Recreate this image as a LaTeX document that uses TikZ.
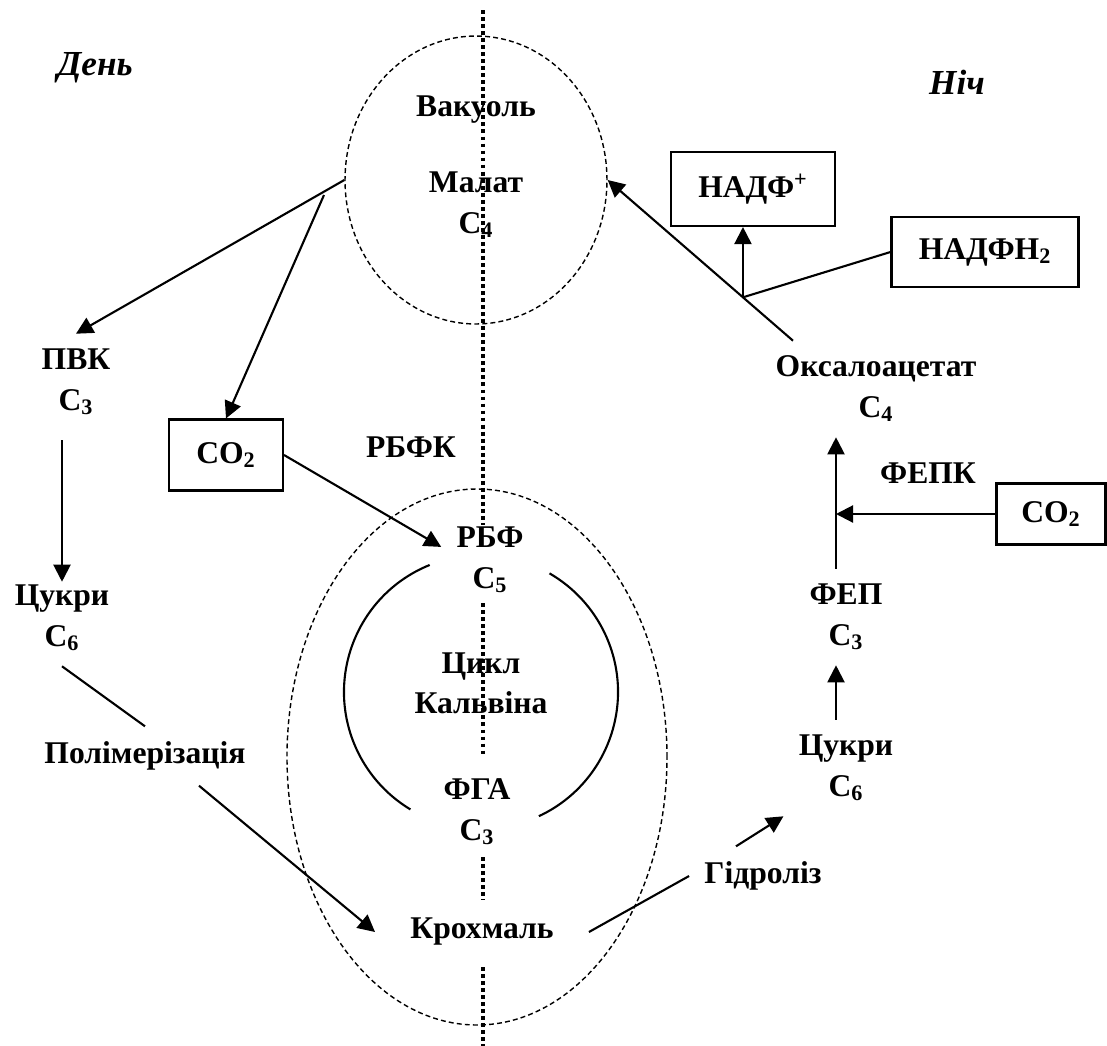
\documentclass[tikz,border=0pt]{standalone}
\usepackage{fontspec}
\setmainfont{Liberation Serif}
\usetikzlibrary{arrows.meta, shapes.geometric}

\begin{document}
\begin{tikzpicture}[
  x=0.02cm, y=0.02cm,
  lbl/.style={inner sep=0.3cm, align=center, font=\fontsize{18}{23}\selectfont\bfseries},
  period/.style={inner sep=0.1cm, font=\fontsize{20}{24}\selectfont\bfseries\itshape},
  box/.style={draw, line width=1.2pt, inner sep=0pt, font=\fontsize{18}{23}\selectfont\bfseries},
  arr/.style={line width=1.2pt, -{Triangle[length=0.34cm, width=0.34cm]}},
  link/.style={line width=1.2pt},
  membrane/.style={draw, line width=0.8pt, dash pattern=on 2.8pt off 1.8pt},
  divider/.style={line width=2.4pt, dash pattern=on 2.2pt off 1.8pt},
]
  \useasboundingbox (0,0) rectangle (1107,-1046);

  % day / night border
  \foreach \a/\b in {10/525, 603/757, 857/900, 967/1046}
    \draw[divider] (483,-\a) -- (483,-\b);

  % vacuole, chloroplast, Calvin cycle
  \node[membrane, ellipse, minimum width=5.24cm, minimum height=5.76cm] (vac) at (476,-180) {};
  \draw[membrane] (477,-757) ellipse [x radius=190, y radius=268];
  \draw[link] (481,-692) ++(112:137) arc[start angle=112, end angle=239, radius=137];
  \draw[link] (481,-692) ++(-65:137) arc[start angle=-65, end angle=60, radius=137];

  \node[period] (day) at (95,-68) {День};
  \node[period] (night) at (957,-82) {Ніч};

  \node[lbl] (vaclbl) at (476,-110) {Вакуоль};
  \node[lbl] (malat) at (476,-205) {Малат\\C\textsubscript{4}};
  \node[lbl] (pvk) at (76,-382) {ПВК\\C\textsubscript{3}};
  \node[lbl] (rbfk) at (411,-447) {РБФК};
  \node[lbl] (rbf) at (490,-560) {РБФ\\C\textsubscript{5}};
  \node[lbl] (calvin) at (481,-683) {Цикл\\Кальвіна};
  \node[lbl] (fga) at (477,-812) {ФГА\\C\textsubscript{3}};
  \node[lbl] (krox) at (482,-932) {Крохмаль};
  \node[lbl] (cukry1) at (62,-618) {Цукри\\C\textsubscript{6}};
  \node[lbl] (polim) at (145,-756) {Полімерізація};
  \node[lbl] (hydro) at (763,-876) {Гідроліз};
  \node[lbl] (cukry2) at (846,-768) {Цукри\\C\textsubscript{6}};
  \node[lbl] (fep) at (846,-617) {ФЕП\\C\textsubscript{3}};
  \node[lbl] (ox) at (876,-389) {Оксалоацетат\\C\textsubscript{4}};
  \node[lbl] (fepk) at (928,-473) {ФЕПК};

  \node[box, minimum width=2.28cm, minimum height=1.42cm] (co2a) at (226,-455) {CO\textsubscript{2}};
  \node[box, minimum width=2.18cm, minimum height=1.22cm] (co2b) at (1051,-514) {CO\textsubscript{2}};
  \node[box, minimum width=3.28cm, minimum height=1.48cm] (nadp) at (753,-189) {НАДФ\textsuperscript{+}};
  \node[box, minimum width=3.74cm, minimum height=1.4cm] (nadph) at (985,-252) {НАДФН\textsubscript{2}};

  % day
  \coordinate (split) at (324,-195);
  \draw[arr] (vac.west) -- (pvk.north);
  \draw[arr] (split) -- (co2a.north);
  \draw[arr] (co2a.east) -- (rbf.165);
  \draw[arr] ([yshift=-0.2cm]pvk.south -| cukry1) -- ([yshift=-0.24cm]cukry1.north);
  \draw[link] (cukry1.south) -- (polim.north);
  \draw[arr] ([xshift=1.08cm]polim.south) -- ([xshift=-0.4cm]krox.west);

  % night
  \draw[link] ([xshift=0.4cm]krox.east) -- (hydro.west);
  \draw[arr] ([xshift=-0.54cm]hydro.north) -- (cukry2.south west);
  \draw[arr] ([xshift=-0.2cm]cukry2.north) -- ([xshift=-0.2cm]fep.south);
  \draw[arr] ([xshift=-0.2cm]fep.north) coordinate (fepup) -- (fepup |- ox.south);
  \draw[arr] (co2b.west) -- (co2b.west -| fepup);
  \draw[arr] ([xshift=-1.66cm]ox.north) -- coordinate[pos=0.27] (redox) (vac.east);
  \draw[arr] (redox) -- (redox |- nadp.south);
  \draw[link] (redox) -- (nadph.west);
\end{tikzpicture}
\end{document}
